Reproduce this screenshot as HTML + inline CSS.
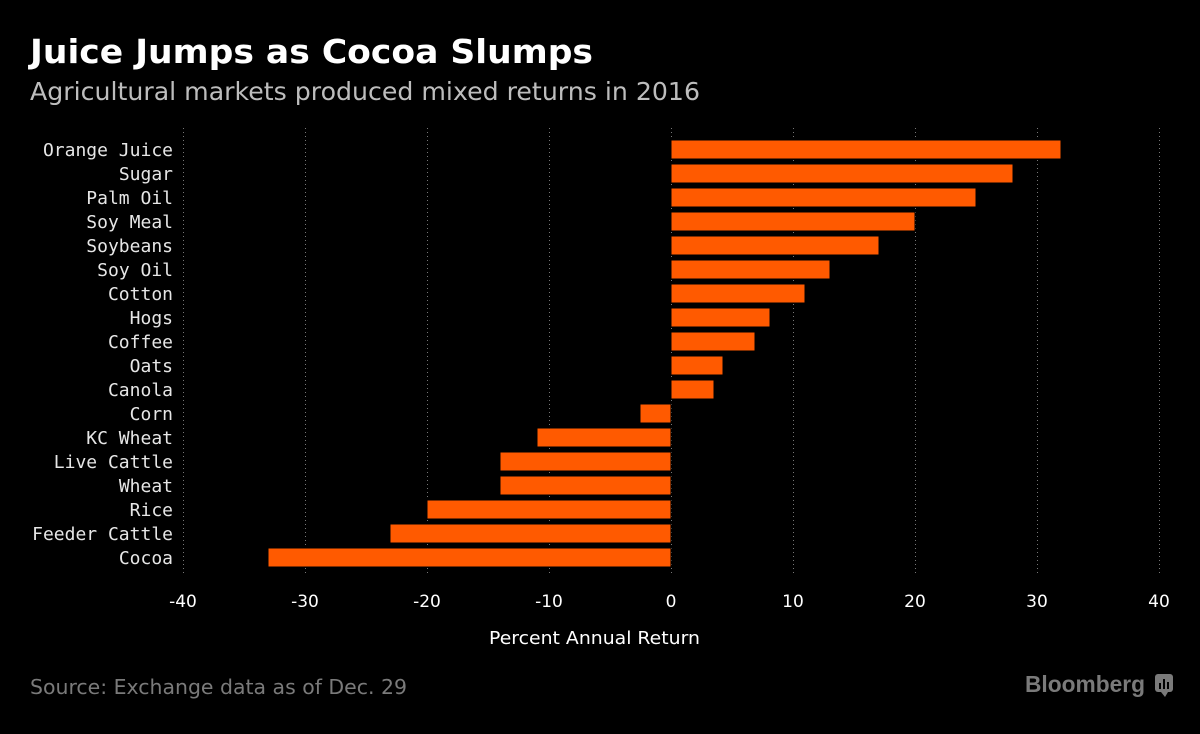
<!DOCTYPE html>
<html><head><style>
body{margin:0;background:#000;width:1200px;height:729px;overflow:hidden}
</style></head><body>
<svg width="1200" height="729" xmlns="http://www.w3.org/2000/svg">
<rect width="1200" height="729" fill="#000"/>
<text x="30" y="63" fill="#fff" font-family="'DejaVu Sans','Liberation Sans',sans-serif" font-weight="bold" font-size="33" textLength="563" lengthAdjust="spacingAndGlyphs">Juice Jumps as Cocoa Slumps</text>
<text x="30" y="100" fill="#bdbdbd" font-family="'DejaVu Sans','Liberation Sans',sans-serif" font-size="25" textLength="670" lengthAdjust="spacingAndGlyphs">Agricultural markets produced mixed returns in 2016</text>
<g stroke="#777" stroke-width="1" stroke-dasharray="1,3">
<line x1="183.5" y1="128" x2="183.5" y2="575"/><line x1="305.5" y1="128" x2="305.5" y2="575"/>
<line x1="427.5" y1="128" x2="427.5" y2="575"/><line x1="549.5" y1="128" x2="549.5" y2="575"/>
<line x1="671.5" y1="128" x2="671.5" y2="575"/><line x1="793.5" y1="128" x2="793.5" y2="575"/>
<line x1="915.5" y1="128" x2="915.5" y2="575"/><line x1="1037.5" y1="128" x2="1037.5" y2="575"/>
<line x1="1159.5" y1="128" x2="1159.5" y2="575"/>
</g>
<g fill="#ff5a00" stroke="#000" stroke-width="1">
<rect x="671" y="140" width="390" height="19"/>
<rect x="671" y="164" width="342" height="19"/>
<rect x="671" y="188" width="305" height="19"/>
<rect x="671" y="212" width="244" height="19"/>
<rect x="671" y="236" width="208" height="19"/>
<rect x="671" y="260" width="159" height="19"/>
<rect x="671" y="284" width="134" height="19"/>
<rect x="671" y="308" width="99" height="19"/>
<rect x="671" y="332" width="84" height="19"/>
<rect x="671" y="356" width="52" height="19"/>
<rect x="671" y="380" width="43" height="19"/>
<rect x="640" y="404" width="31" height="19"/>
<rect x="537" y="428" width="134" height="19"/>
<rect x="500" y="452" width="171" height="19"/>
<rect x="500" y="476" width="171" height="19"/>
<rect x="427" y="500" width="244" height="19"/>
<rect x="390" y="524" width="281" height="19"/>
<rect x="268" y="548" width="403" height="19"/>
</g>
<g fill="#e6e6e6" font-family="'DejaVu Sans Mono','Liberation Mono',monospace" font-size="18" text-anchor="end">
<text x="173" y="156">Orange Juice</text><text x="173" y="180">Sugar</text>
<text x="173" y="204">Palm Oil</text><text x="173" y="228">Soy Meal</text>
<text x="173" y="252">Soybeans</text><text x="173" y="276">Soy Oil</text>
<text x="173" y="300">Cotton</text><text x="173" y="324">Hogs</text>
<text x="173" y="348">Coffee</text><text x="173" y="372">Oats</text>
<text x="173" y="396">Canola</text><text x="173" y="420">Corn</text>
<text x="173" y="444">KC Wheat</text><text x="173" y="468">Live Cattle</text>
<text x="173" y="492">Wheat</text><text x="173" y="516">Rice</text>
<text x="173" y="540">Feeder Cattle</text><text x="173" y="564">Cocoa</text>
</g>
<g fill="#fff" font-family="'DejaVu Sans','Liberation Sans',sans-serif" font-size="17" text-anchor="middle">
<text x="183" y="607">-40</text><text x="305" y="607">-30</text><text x="427" y="607">-20</text>
<text x="549" y="607">-10</text><text x="671" y="607">0</text><text x="793" y="607">10</text>
<text x="915" y="607">20</text><text x="1037" y="607">30</text><text x="1159" y="607">40</text>
</g>
<text x="489" y="644" fill="#fff" font-family="'DejaVu Sans','Liberation Sans',sans-serif" font-size="18" textLength="211" lengthAdjust="spacingAndGlyphs">Percent Annual Return</text>
<text x="30" y="694" fill="#7a7a7a" font-family="'DejaVu Sans','Liberation Sans',sans-serif" font-size="20" textLength="377" lengthAdjust="spacingAndGlyphs">Source: Exchange data as of Dec. 29</text>
<text x="1025" y="692" fill="#7a7a7a" font-family="'Liberation Sans',sans-serif" font-size="23" font-weight="bold" textLength="120" lengthAdjust="spacingAndGlyphs">Bloomberg</text>
<g fill="#7a7a7a"><rect x="1155" y="674" width="18" height="18" rx="3"/><polygon points="1161,692 1165,697 1168,692"/></g>
<g fill="#000"><rect x="1159" y="683" width="2" height="6"/><rect x="1163" y="679" width="2" height="10"/><rect x="1167" y="682" width="2" height="7"/></g>
</svg>
</body></html>
